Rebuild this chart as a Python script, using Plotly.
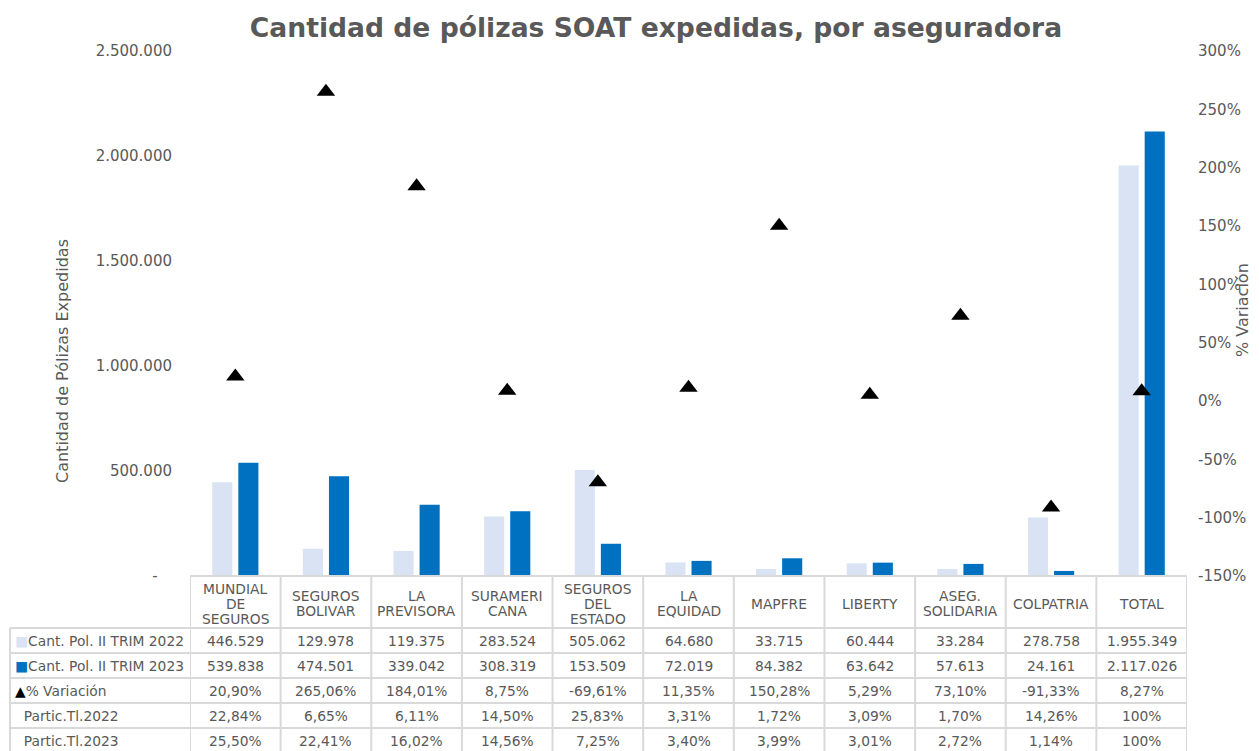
import plotly.graph_objects as go

# ---------------- data ----------------
categories = ["MUNDIAL<br>DE<br>SEGUROS", "SEGUROS<br>BOLIVAR", "LA<br>PREVISORA",
              "SURAMERI<br>CANA", "SEGUROS<br>DEL<br>ESTADO", "LA<br>EQUIDAD", "MAPFRE",
              "LIBERTY", "ASEG.<br>SOLIDARIA", "COLPATRIA", "TOTAL"]
pol_2022 = [446529, 129978, 119375, 283524, 505062, 64680, 33715, 60444, 33284, 278758, 1955349]
pol_2023 = [539838, 474501, 339042, 308319, 153509, 72019, 84382, 63642, 57613, 24161, 2117026]
variacion = [20.90, 265.06, 184.01, 8.75, -69.61, 11.35, 150.28, 5.29, 73.10, -91.33, 8.27]
partic_2022 = [22.84, 6.65, 6.11, 14.50, 25.83, 3.31, 1.72, 3.09, 1.70, 14.26, 100]
partic_2023 = [25.50, 22.41, 16.02, 14.56, 7.25, 3.40, 3.99, 3.01, 2.72, 1.14, 100]

left_tickvals = [0, 500000, 1000000, 1500000, 2000000, 2500000]
left_ticktext = ["-\u00a0\u00a0\u00a0", "500.000", "1.000.000", "1.500.000", "2.000.000", "2.500.000"]
right_tickvals = [-1.5, -1.0, -0.5, 0, 0.5, 1.0, 1.5, 2.0, 2.5, 3.0]
right_ticktext = ["-150%", "-100%", "-50%", "0%", "50%", "100%", "150%", "200%", "250%", "300%"]

row_labels = ["<span style='color:#DAE3F3'>■</span>Cant. Pol. II TRIM 2022",
              "<span style='color:#0070C0'>■</span>Cant. Pol. II TRIM 2023",
              "<span style='color:#000000'>▲</span>% Variación",
              "\u00a0\u00a0Partic.Tl.2022",
              "\u00a0\u00a0Partic.Tl.2023"]

# ---------------- styles ----------------
OFF = 8  # page body margin
W, H = 1259 - OFF, 751 - OFF
ML, MR, MT = 190 - OFF, 72, 51 - OFF
PH = 576 - 51
MB = H - MT - PH
PW = W - ML - MR
C_LIGHT = "#DAE3F3"
C_DARK = "#0070C0"
TXT = "#595959"
GRID = "#D9D9D9"
FONT = "DejaVu Sans"


def fmt_int(v):
    return f"{v:,}".replace(",", ".")


def fmt_pct(v):
    if v == 100:
        return "100%"
    return f"{v:.2f}".replace(".", ",") + "%"


def py(p):  # screen pixel y -> paper y
    return (MT + PH - (p - OFF)) / PH


def px(p):  # screen pixel x -> paper x
    return (p - OFF - ML) / PW


fig = go.Figure()
fig.add_trace(go.Bar(x=categories, y=pol_2022, name="Cant. Pol. II TRIM 2022",
                     marker=dict(color=C_LIGHT, line=dict(width=0))))
fig.add_trace(go.Bar(x=categories, y=pol_2023, name="Cant. Pol. II TRIM 2023",
                     marker=dict(color=C_DARK, line=dict(width=0))))
fig.add_trace(go.Scatter(x=categories, y=[v / 100 for v in variacion], yaxis="y2",
                         mode="markers", name="% Variación",
                         marker=dict(symbol="triangle-up", size=16, color="black")))

# ---------------- table ----------------
HEAD_TOP, HEAD_BOT, ROW_H = 576, 628, 25
n = len(categories)
shapes = []
line = dict(color=GRID, width=2)
shapes.append(dict(type="line", xref="paper", yref="paper", x0=0, x1=1,
                   y0=py(HEAD_TOP), y1=py(HEAD_TOP), line=line))
for r in range(5):
    yy = py(HEAD_BOT + r * ROW_H)
    shapes.append(dict(type="line", xref="paper", yref="paper", x0=px(10), x1=1,
                       y0=yy, y1=yy, line=line))
shapes.append(dict(type="line", xref="paper", yref="paper", x0=px(10), x1=px(10),
                   y0=py(HEAD_BOT), y1=py(760), line=line))
for i in range(n + 1):
    shapes.append(dict(type="line", xref="x", yref="paper", x0=i - 0.5, x1=i - 0.5,
                       y0=py(HEAD_TOP), y1=py(760), line=line))

annotations = []
tfont = dict(family=FONT, size=13.8, color=TXT)
HEAD_C, LINE_H = 603.5, 15
for c in categories:
    parts = c.split("<br>")
    k = len(parts)
    for j, part in enumerate(parts):
        annotations.append(dict(x=c, y=py(HEAD_C + (j - (k - 1) / 2) * LINE_H),
                                xref="x", yref="paper", text=part, showarrow=False,
                                font=tfont, xanchor="center", yanchor="middle"))
rows = [
    [fmt_int(v) for v in pol_2022],
    [fmt_int(v) for v in pol_2023],
    [fmt_pct(v) for v in variacion],
    [fmt_pct(v) for v in partic_2022],
    [fmt_pct(v) for v in partic_2023],
]
for r, vals in enumerate(rows):
    yc = py(HEAD_BOT + r * ROW_H + ROW_H / 2)
    annotations.append(dict(x=px(13), y=yc, xref="paper", yref="paper", text=row_labels[r],
                            showarrow=False, font=tfont, xanchor="left", yanchor="middle"))
    for i, c in enumerate(categories):
        annotations.append(dict(x=c, y=yc, xref="x", yref="paper", text=vals[i],
                                showarrow=False, font=tfont, xanchor="center", yanchor="middle"))

annotations.append(dict(x=px(62), y=py(361), xref="paper", yref="paper",
                        text="Cantidad de Pólizas Expedidas", textangle=-90, showarrow=False,
                        font=dict(family=FONT, size=16, color=TXT),
                        xanchor="center", yanchor="middle"))
annotations.append(dict(x=px(1242), y=py(310), xref="paper", yref="paper",
                        text="% Variación", textangle=-90, showarrow=False,
                        font=dict(family=FONT, size=16, color=TXT),
                        xanchor="center", yanchor="middle"))

fig.update_layout(
    width=W, height=H,
    margin=dict(l=ML, r=MR, t=MT, b=MB, pad=0),
    paper_bgcolor="white", plot_bgcolor="white",
    showlegend=False,
    barmode="group", bargap=0.424, bargroupgap=0.23,
    title=dict(text="<b>Cantidad de pólizas SOAT expedidas, por aseguradora</b>",
               x=(656 - OFF) / W, xanchor="center", xref="container",
               y=1 - (28 - OFF) / H, yanchor="middle", yref="container",
               font=dict(family=FONT, size=26.6, color=TXT)),
    xaxis=dict(range=[-0.5, n - 0.5], showticklabels=False, showgrid=False,
               zeroline=False, showline=False, fixedrange=True),
    yaxis=dict(range=[0, 2500000], tickvals=left_tickvals, ticktext=left_ticktext,
               showgrid=False, zeroline=False, showline=False,
               tickfont=dict(family=FONT, size=15, color=TXT), ticklabelstandoff=17),
    yaxis2=dict(range=[-1.5, 3.0], tickvals=right_tickvals, ticktext=right_ticktext,
                overlaying="y", side="right", showgrid=False, zeroline=False, showline=False,
                tickfont=dict(family=FONT, size=15, color=TXT), ticklabelstandoff=10),
    shapes=shapes,
    annotations=annotations,
)

fig.write_html("out.html")
